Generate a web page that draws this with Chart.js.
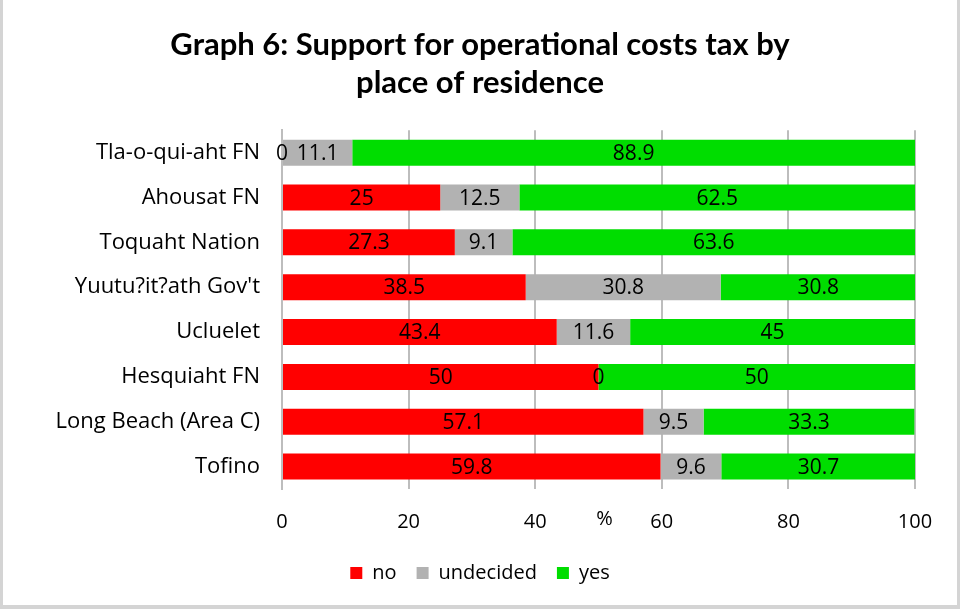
<!DOCTYPE html>
<html>
<head>
<meta charset="utf-8">
<script src="https://cdn.jsdelivr.net/npm/chart.js@4/dist/chart.umd.min.js"></script>
<style>
  html, body { margin: 0; padding: 0; background: #fff; }
  #wrap { width: 960px; height: 609px; box-sizing: border-box; border-left: 3px solid #d4d4d4; border-right: 3px solid #d4d4d4; border-bottom: 4px solid #d4d4d4; position: relative; }
  canvas { display: block; }
</style>
</head>
<body>
<div id="wrap"><canvas id="c"></canvas></div>
<script>
const categories = ["Tla-o-qui-aht FN", "Ahousat FN", "Toquaht Nation", "Yuutu?it?ath Gov't", "Ucluelet", "Hesquiaht FN", "Long Beach (Area C)", "Tofino"];
const noValues = [0, 25, 27.3, 38.5, 43.4, 50, 57.1, 59.8];
const undecidedValues = [11.1, 12.5, 9.1, 30.8, 11.6, 0, 9.5, 9.6];
const yesValues = [88.9, 62.5, 63.6, 30.8, 45, 50, 33.3, 30.7];
const xTicks = [0, 20, 40, 60, 80, 100];
const titleLines = ["Graph 6: Support for operational costs tax by", "place of residence"];
const axisTitle = "%";

const FONT = "'Open Sans', Lato, sans-serif";
const TITLE_FONT = "Lato, 'Open Sans', sans-serif";

const barLabels = {
  id: 'barLabels',
  afterDatasetsDraw(chart) {
    const ctx = chart.ctx;
    ctx.save();
    ctx.font = "21px " + FONT;
    ctx.fillStyle = "#000";
    ctx.textAlign = "center";
    ctx.textBaseline = "middle";
    chart.data.datasets.forEach((ds, di) => {
      const meta = chart.getDatasetMeta(di);
      meta.data.forEach((bar, i) => {
        const v = ds.data[i];
        const p = bar.getProps(['x', 'y', 'base'], true);
        const cx = (p.x + p.base) / 2;
        ctx.fillText(String(v), cx, p.y + 1);
      });
    });
    ctx.restore();
  }
};

const axisTitlePlugin = {
  id: 'axisTitlePlugin',
  afterDraw(chart) {
    const xs = chart.scales.x;
    const ctx = chart.ctx;
    ctx.save();
    ctx.font = "20px " + FONT;
    ctx.fillStyle = "#000";
    ctx.textAlign = "center";
    ctx.textBaseline = "middle";
    ctx.fillText(axisTitle, (xs.left + xs.right) / 2 + 6, xs.top + 30);
    ctx.restore();
  }
};

new Chart(document.getElementById('c'), {
  type: 'bar',
  data: {
    labels: categories,
    datasets: [
      { label: 'no', data: noValues, backgroundColor: '#ff0000' },
      { label: 'undecided', data: undecidedValues, backgroundColor: '#b2b2b2' },
      { label: 'yes', data: yesValues, backgroundColor: '#00dd00' }
    ]
  },
  options: {
    indexAxis: 'y',
    responsive: true,
    maintainAspectRatio: false,
    animation: false,
    categoryPercentage: 1,
    barPercentage: 0.58,
    layout: { padding: { left: 0, right: 0, top: 0, bottom: 12 } },
    scales: {
      x: {
        stacked: true,
        min: 0, max: 100,
        afterBuildTicks: (s) => { s.ticks = xTicks.map(v => ({ value: v })); },
        afterFit: (s) => { s.height = 54; },
        grid: { color: '#bdbdbd', lineWidth: 2, drawTicks: false },
        border: { display: false },
        ticks: { color: '#000', font: { size: 20, family: FONT }, padding: 21 }
      },
      y: {
        stacked: true,
        afterFit: (s) => { s.width = 279; },
        grid: { display: false, drawTicks: false },
        border: { display: true, color: '#bdbdbd', width: 2 },
        ticks: { color: '#000', font: { size: 22, family: FONT }, padding: 22 }
      },
      yRight: {
        type: 'category',
        position: 'right',
        afterFit: (s) => { s.width = 42; },
        grid: { display: false, drawTicks: false },
        border: { display: false },
        ticks: { display: false }
      }
    },
    plugins: {
      title: {
        display: true,
        text: titleLines,
        color: '#000',
        font: { size: 31, weight: 'bold', family: TITLE_FONT, lineHeight: 1.23 },
        padding: { top: 26, bottom: 28 }
      },
      legend: {
        position: 'bottom',
        labels: { color: '#000', font: { size: 20, family: FONT }, boxWidth: 12, boxHeight: 12, padding: 20 }
      },
      tooltip: { enabled: false }
    }
  },
  plugins: [barLabels, axisTitlePlugin]
});
</script>
</body>
</html>
